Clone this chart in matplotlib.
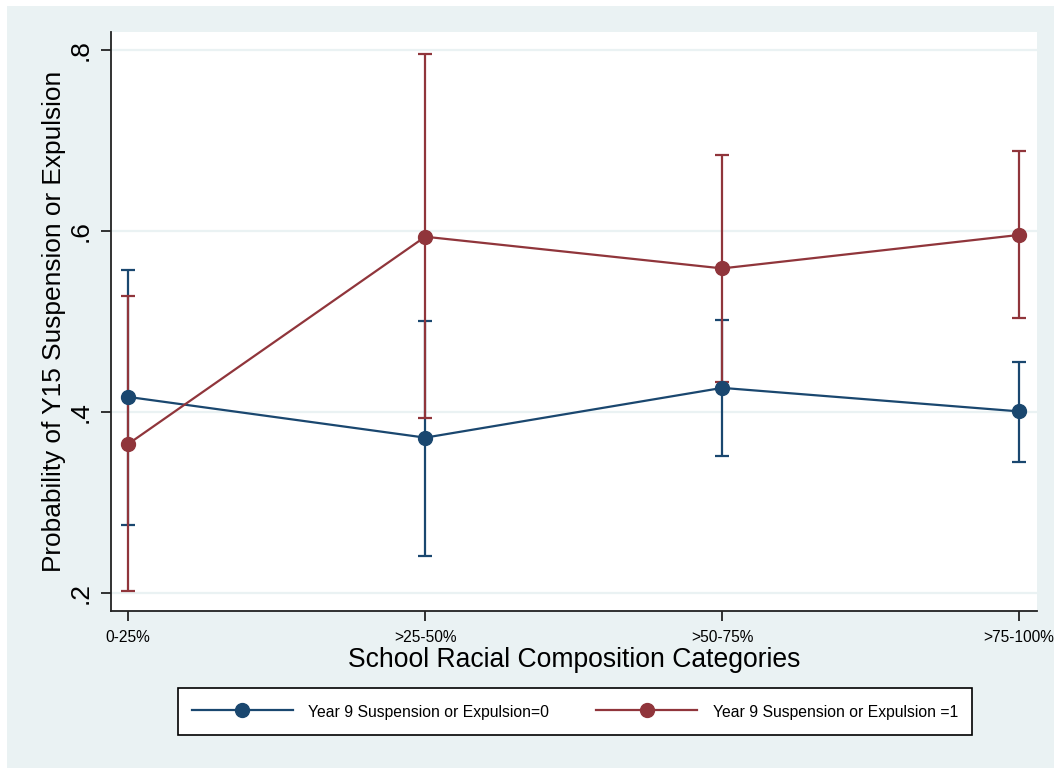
import numpy as np
import matplotlib.pyplot as plt
from matplotlib.patches import Rectangle

# categories on the x axis
categories = ['0-25%', '>25-50%', '>50-75%', '>75-100%']

# Year 9 suspension or expulsion = 0
prob0 = [0.417, 0.372, 0.427, 0.401]
lo0 = [0.276, 0.241, 0.352, 0.345]
hi0 = [0.557, 0.501, 0.502, 0.456]

# Year 9 suspension or expulsion = 1
prob1 = [0.365, 0.594, 0.559, 0.596]
lo1 = [0.203, 0.394, 0.433, 0.504]
hi1 = [0.528, 0.796, 0.684, 0.689]

yticks = [0.2, 0.4, 0.6, 0.8]
ytick_labels = ['.2', '.4', '.6', '.8']

labels = ['Year 9 Suspension or Expulsion=0', 'Year 9 Suspension or Expulsion =1']

navy = '#1a476f'
maroon = '#90353b'
bg = '#eaf2f3'

plt.rcParams['font.family'] = ['Liberation Sans', 'DejaVu Sans']

fig = plt.figure(figsize=(10.54, 7.68), dpi=100, facecolor='white')
# grey graph region (white strip at top and left like the original export)
fig.patches.append(Rectangle((7 / 1054, 0), 1, 1 - 6 / 768,
                             transform=fig.transFigure, facecolor=bg,
                             edgecolor='none', zorder=-10))

ax = fig.add_axes([111 / 1054, 1 - 610.7 / 768, (1037 - 111) / 1054, (610.7 - 32) / 768])
ax.set_facecolor('white')

x = np.arange(len(categories))

for p, lo, hi, col, lab in [(prob0, lo0, hi0, navy, labels[0]),
                            (prob1, lo1, hi1, maroon, labels[1])]:
    p = np.array(p)
    err = [p - np.array(lo), np.array(hi) - p]
    ax.errorbar(x, p, yerr=err, fmt='none', ecolor=col, elinewidth=1.6,
                capsize=4.8, capthick=1.6, zorder=3)
    ax.plot(x, p, '-o', color=col, lw=1.6, markersize=10, label=lab, zorder=4)

ax.set_xlim(-0.058, 3.06)
ax.set_ylim(0.1808, 0.8202)
ax.set_xticks(x)
ax.set_xticklabels(categories, fontsize=11.2)
ax.set_yticks(yticks)
ax.set_yticklabels(ytick_labels, fontsize=19, rotation=90, va='center')
ax.grid(axis='y', color=bg, lw=1.6)
ax.set_axisbelow(True)

for s in ['top', 'right']:
    ax.spines[s].set_visible(False)
for s in ['left', 'bottom']:
    ax.spines[s].set_linewidth(1.3)
    ax.spines[s].set_color('#222222')
ax.tick_params(axis='both', direction='out', length=7, width=1.3, color='#222222')
ax.tick_params(axis='x', pad=7)
ax.tick_params(axis='y', pad=6)

ax.set_xlabel('School Racial Composition Categories', fontsize=19.1, labelpad=1)
ax.set_ylabel('Probability of Y15 Suspension or Expulsion', fontsize=18.9, labelpad=2)

leg = fig.legend(loc='center', bbox_to_anchor=(575 / 1054, 1 - 711.5 / 768), ncol=2,
                 fontsize=11.3, frameon=True, fancybox=False, edgecolor='black',
                 framealpha=1, handlelength=6.4, handletextpad=1.0, handleheight=1.4,
                 columnspacing=3.0, borderpad=0.9, borderaxespad=0)
leg.get_frame().set_linewidth(1.2)

fig.savefig('out.png', dpi=100, facecolor=fig.get_facecolor())
